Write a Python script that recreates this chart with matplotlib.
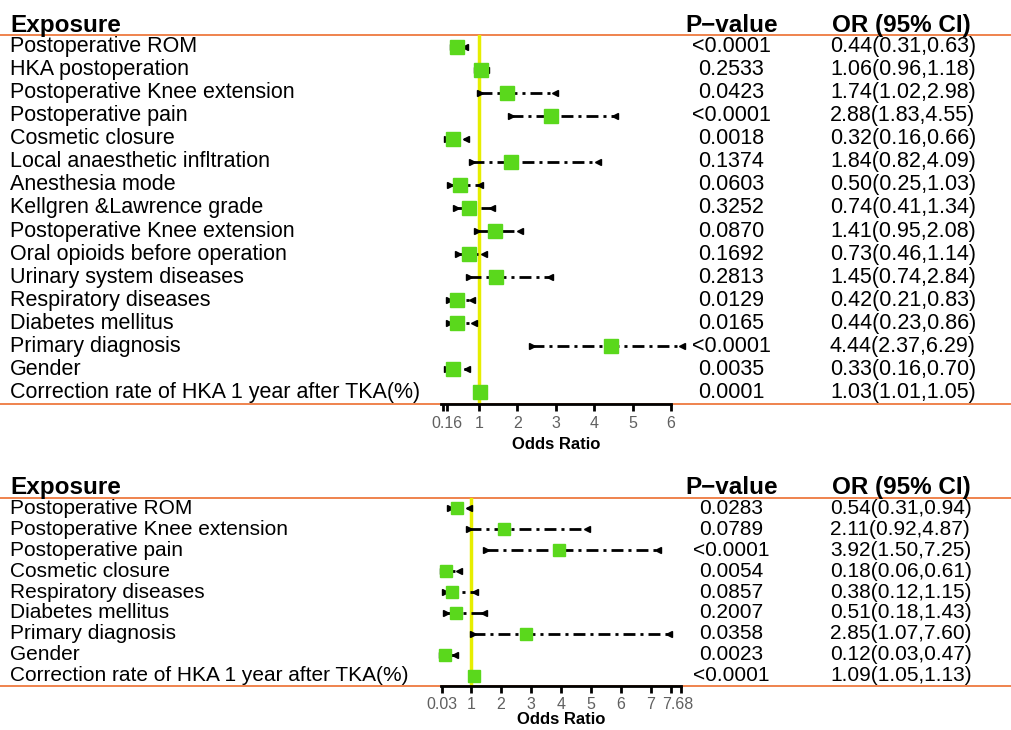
import numpy as np
import matplotlib.pyplot as plt
from matplotlib.transforms import blended_transform_factory, ScaledTranslation

plt.rcParams['font.family'] = ['Liberation Sans', 'DejaVu Sans']

# model 1: all candidate exposures
labels1 = ['Postoperative ROM', 'HKA postoperation', 'Postoperative Knee extension',
           'Postoperative pain', 'Cosmetic closure', 'Local anaesthetic infltration',
           'Anesthesia mode', 'Kellgren &Lawrence grade', 'Postoperative Knee extension',
           'Oral opioids before operation', 'Urinary system diseases', 'Respiratory diseases',
           'Diabetes mellitus', 'Primary diagnosis', 'Gender',
           'Correction rate of HKA 1 year after TKA(%)']
pvals1 = ['<0.0001', '0.2533', '0.0423', '<0.0001', '0.0018', '0.1374', '0.0603', '0.3252',
          '0.0870', '0.1692', '0.2813', '0.0129', '0.0165', '<0.0001', '0.0035', '0.0001']
or1 = [0.44, 1.06, 1.74, 2.88, 0.32, 1.84, 0.50, 0.74, 1.41, 0.73, 1.45, 0.42, 0.44, 4.44, 0.33, 1.03]
lo1 = [0.31, 0.96, 1.02, 1.83, 0.16, 0.82, 0.25, 0.41, 0.95, 0.46, 0.74, 0.21, 0.23, 2.37, 0.16, 1.01]
hi1 = [0.63, 1.18, 2.98, 4.55, 0.66, 4.09, 1.03, 1.34, 2.08, 1.14, 2.84, 0.83, 0.86, 6.29, 0.70, 1.05]
ticks1 = [0.16, 1, 2, 3, 4, 5, 6]
ticklabels1 = ['0.16', '1', '2', '3', '4', '5', '6']

# model 2: retained exposures
labels2 = ['Postoperative ROM', 'Postoperative Knee extension', 'Postoperative pain',
           'Cosmetic closure', 'Respiratory diseases', 'Diabetes mellitus',
           'Primary diagnosis', 'Gender', 'Correction rate of HKA 1 year after TKA(%)']
pvals2 = ['0.0283', '0.0789', '<0.0001', '0.0054', '0.0857', '0.2007', '0.0358', '0.0023', '<0.0001']
or2 = [0.54, 2.11, 3.92, 0.18, 0.38, 0.51, 2.85, 0.12, 1.09]
lo2 = [0.31, 0.92, 1.50, 0.06, 0.12, 0.18, 1.07, 0.03, 1.05]
hi2 = [0.94, 4.87, 7.25, 0.61, 1.15, 1.43, 7.60, 0.47, 1.13]
ticks2 = [0.03, 1, 2, 3, 4, 5, 6, 7, 7.68]
ticklabels2 = ['0.03', '1', '2', '3', '4', '5', '6', '7', '7.68']

W, H = 1012, 730
GREEN = '#5ad81c'
ORANGE = '#ee7a3f'
YELLOW = '#e6ee00'

fig = plt.figure(figsize=(W / 100, H / 100), dpi=100)


def forest(rect, labels, pvals, ors, los, his, xmax, ticks, ticklabels, minor,
           head_px, box, fs, pad, labelpad):
    ax = fig.add_axes(rect)
    n = len(labels)
    rows = np.arange(1, n + 1)
    ax.set_xlim(0, xmax)
    ax.set_ylim(n + 0.5, 0.5)

    ax.axvline(1, color=YELLOW, lw=2.5, zorder=1)
    ax.hlines(rows, los, his, colors='k', lw=2, linestyles=(0, (4.3, 1.8, 1.1, 1.8)),
              zorder=2, clip_on=False)
    ax.plot(los, rows, '>', color='k', ms=5, zorder=2, clip_on=False)
    ax.plot(his, rows, '<', color='k', ms=5, zorder=2, clip_on=False)
    ax.plot(ors, rows, 's', color=GREEN, ms=box, zorder=3, clip_on=False)

    for s in ['top', 'left', 'right']:
        ax.spines[s].set_visible(False)
    ax.spines['bottom'].set_linewidth(2)
    ax.spines['bottom'].set_zorder(4)
    ax.set_yticks([])
    ax.set_xticks(ticks)
    ax.set_xticklabels(ticklabels, color='#606060', fontsize=11.5)
    ax.set_xticks(minor, minor=True)
    ax.tick_params(axis='x', which='both', width=2, length=5, pad=pad)
    ax.set_xlabel('Odds Ratio', fontweight='bold', fontsize=12, labelpad=labelpad)

    # table columns and orange rules across the full width
    tr = blended_transform_factory(fig.transFigure, ax.transData)
    ax.plot([0, 1], [0.5, 0.5], color=ORANGE, lw=1.3, transform=tr, clip_on=False, zorder=0.5)
    ax.plot([0, 1], [n + 0.5, n + 0.5], color=ORANGE, lw=1.3, transform=tr, clip_on=False, zorder=0.5)
    for r, lab, p, o, l, h in zip(rows, labels, pvals, ors, los, his):
        fig.text(10 / W, r, lab, transform=tr, fontsize=fs, va='center', ha='left')
        fig.text(731 / W, r, p, transform=tr, fontsize=fs, va='center', ha='center')
        fig.text(830 / W, r, f'{o:.2f}({l:.2f},{h:.2f})', transform=tr, fontsize=fs,
                 va='center', ha='left')

    hy = 1 - head_px / H
    fig.text(10 / W, hy, 'Exposure', fontsize=17.5, fontweight='bold', va='baseline')
    fig.text(732 / W, hy, 'P\u2212value', fontsize=17.5, fontweight='bold', va='baseline', ha='center')
    fig.text(832 / W, hy, 'OR (95% CI)', fontsize=17.5, fontweight='bold', va='baseline')
    return ax


forest([440.6 / W, 1 - 404 / H, 230.4 / W, 369 / H], labels1, pvals1, or1, lo1, hi1,
       6, ticks1, ticklabels1, [0.06], 32, 10, 15.5, 4, 4)
ax2 = forest([441 / W, 1 - 686 / H, 240 / W, 188 / H], labels2, pvals2, or2, lo2, hi2,
             8, ticks2, ticklabels2, [8], 494, 9, 15, 3, 0)

# nudge the 7.68 label off the 7
lab = ax2.get_xticklabels()[-1]
lab.set_transform(lab.get_transform() + ScaledTranslation(6 / 100, 0, fig.dpi_scale_trans))

fig.savefig('out.png', dpi=100)
